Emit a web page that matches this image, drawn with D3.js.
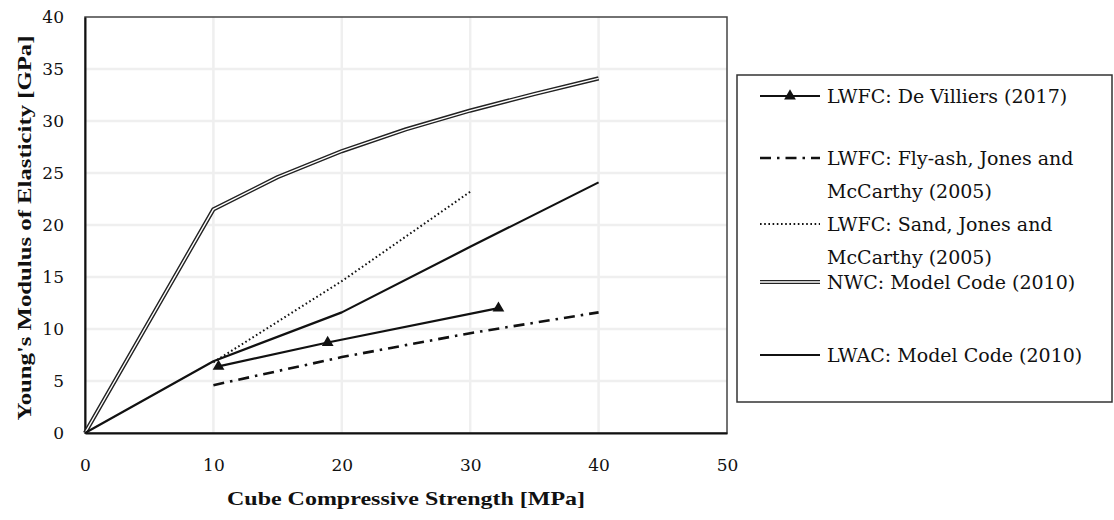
<!DOCTYPE html>
<html>
<head>
<meta charset="utf-8">
<script src="https://cdn.jsdelivr.net/npm/d3@7"></script>
<style>
  body { margin: 0; background: #fff; }
  svg text { fill: #111; }
</style>
</head>
<body>
<div id="chart"></div>
<script>
// values: [cube strength MPa, E GPa]
const deVilliers = [[10.4, 6.4], [18.9, 8.7], [32.2, 12.0]];
const flyAsh = [[10, 4.6], [20, 7.3], [30, 9.6], [40, 11.6]];
const sand = [[10, 6.8], [20, 14.6], [30, 23.2]];
const nwc = [[0, 0], [10, 21.5], [15, 24.6], [20, 27.1], [25, 29.2], [30, 31.0], [35, 32.6], [40, 34.1]];
const lwac = [[0, 0], [10, 6.9], [20, 11.6], [30, 17.9], [40, 24.1]];

const xTicks = [0, 10, 20, 30, 40, 50];
const yTicks = [0, 5, 10, 15, 20, 25, 30, 35, 40];

const legendItems = [
    { key: "dv", lines: ["LWFC: De Villiers (2017)"] },
    { key: "fa", lines: ["LWFC: Fly-ash, Jones and", "McCarthy (2005)"] },
    { key: "sd", lines: ["LWFC: Sand, Jones and", "McCarthy (2005)"] },
    { key: "nwc", lines: ["NWC: Model Code (2010)"] },
    { key: "lwac", lines: ["LWAC: Model Code (2010)"] }
];

const W = 1114, H = 520;
const m = { left: 85, right: 387, top: 17, bottom: 87 };
const serif = "'DejaVu Serif', serif";
const serifBold = "'Liberation Serif', 'DejaVu Serif', serif";

const svg = d3.select("#chart").append("svg")
    .attr("width", W)
    .attr("height", H);

const x = d3.scaleLinear().domain([0, 50]).range([m.left, W - m.right]);
const y = d3.scaleLinear().domain([0, 40]).range([H - m.bottom, m.top]);

// faint grid
const grid = svg.append("g").attr("stroke", "#efefef").attr("stroke-width", 2.5);
grid.selectAll(".gx").data(xTicks.slice(1, -1)).enter().append("line")
    .attr("x1", d => x(d)).attr("x2", d => x(d))
    .attr("y1", y(0)).attr("y2", y(40));
grid.selectAll(".gy").data(yTicks.slice(1, -1)).enter().append("line")
    .attr("x1", x(0)).attr("x2", x(50))
    .attr("y1", d => y(d)).attr("y2", d => y(d));

// frame
svg.append("rect")
    .attr("x", x(0)).attr("y", y(40))
    .attr("width", x(50) - x(0)).attr("height", y(0) - y(40))
    .attr("fill", "none").attr("stroke", "#444").attr("stroke-width", 1.5);

// axes
const xAxis = svg.append("g")
    .attr("transform", `translate(0,${y(0)})`)
    .call(d3.axisBottom(x).tickValues(xTicks).tickSize(0).tickPadding(26));
const yAxis = svg.append("g")
    .attr("transform", `translate(${x(0)},0)`)
    .call(d3.axisLeft(y).tickValues(yTicks).tickSize(0).tickPadding(21));
[xAxis, yAxis].forEach(a => {
    a.attr("font-family", serif);
    a.select(".domain").attr("stroke", "#111").attr("stroke-width", 2);
    a.selectAll("text").attr("font-size", 17).attr("fill", "#222");
});

// axis titles
svg.append("text")
    .attr("x", (x(0) + x(50)) / 2).attr("y", 505)
    .attr("text-anchor", "middle")
    .attr("font-family", serifBold)
    .attr("font-size", 19).attr("font-weight", "bold")
    .attr("textLength", 358).attr("lengthAdjust", "spacingAndGlyphs")
    .text("Cube Compressive Strength [MPa]");
svg.append("text")
    .attr("transform", `translate(31,${(y(0) + y(40)) / 2 + 3}) rotate(-90)`)
    .attr("text-anchor", "middle")
    .attr("font-family", serifBold)
    .attr("font-size", 19).attr("font-weight", "bold")
    .attr("textLength", 385).attr("lengthAdjust", "spacingAndGlyphs")
    .text("Young's Modulus of Elasticity [GPa]");

const line = d3.line().x(d => x(d[0])).y(d => y(d[1]));

const styles = {
    dv: { width: 2.2, dash: null },
    fa: { width: 2.6, dash: "11,6,2.5,6" },
    sd: { width: 2, dash: "1.6,2.6" },
    lwac: { width: 2.2, dash: null }
};

const plot = svg.append("g").attr("fill", "none").attr("stroke-linejoin", "round");

// NWC double line
plot.append("path").datum(nwc).attr("d", line)
    .attr("stroke", "#222").attr("stroke-width", 4.2);
plot.append("path").datum(nwc).attr("d", line)
    .attr("stroke", "#fff").attr("stroke-width", 1.4);

[["lwac", lwac], ["sd", sand], ["fa", flyAsh], ["dv", deVilliers]].forEach(([k, data]) => {
    plot.append("path").datum(data).attr("d", line)
        .attr("stroke", "#111")
        .attr("stroke-width", styles[k].width)
        .attr("stroke-dasharray", styles[k].dash);
});

const tri = d3.symbol().type(d3.symbolTriangle).size(60);
svg.append("g").selectAll("path").data(deVilliers).enter().append("path")
    .attr("d", tri)
    .attr("transform", d => `translate(${x(d[0])},${y(d[1])})`)
    .attr("fill", "#111");

// legend
const lg = svg.append("g");
lg.append("rect")
    .attr("x", 737).attr("y", 75).attr("width", 375).attr("height", 327)
    .attr("fill", "#fff").attr("stroke", "#333").attr("stroke-width", 1.5);

const rowY = [96, 158, 224, 282, 355];
const lineH = 33;
const sx0 = 760, sx1 = 820, tx = 827;

legendItems.forEach((it, i) => {
    const yy = rowY[i];
    if (it.key === "nwc") {
        lg.append("line").attr("x1", sx0).attr("x2", sx1).attr("y1", yy).attr("y2", yy)
            .attr("stroke", "#222").attr("stroke-width", 4.2);
        lg.append("line").attr("x1", sx0).attr("x2", sx1).attr("y1", yy).attr("y2", yy)
            .attr("stroke", "#fff").attr("stroke-width", 1.4);
    } else {
        lg.append("line").attr("x1", sx0).attr("x2", sx1).attr("y1", yy).attr("y2", yy)
            .attr("stroke", "#111")
            .attr("stroke-width", styles[it.key].width)
            .attr("stroke-dasharray", styles[it.key].dash);
    }
    if (it.key === "dv") {
        lg.append("path").attr("d", tri).attr("transform", `translate(${(sx0 + sx1) / 2},${yy})`).attr("fill", "#111");
    }
    it.lines.forEach((t, j) => {
        lg.append("text")
            .attr("x", tx).attr("y", yy + j * lineH + 7)
            .attr("font-family", serif)
            .attr("font-size", 19)
            .text(t);
    });
});
</script>
</body>
</html>
